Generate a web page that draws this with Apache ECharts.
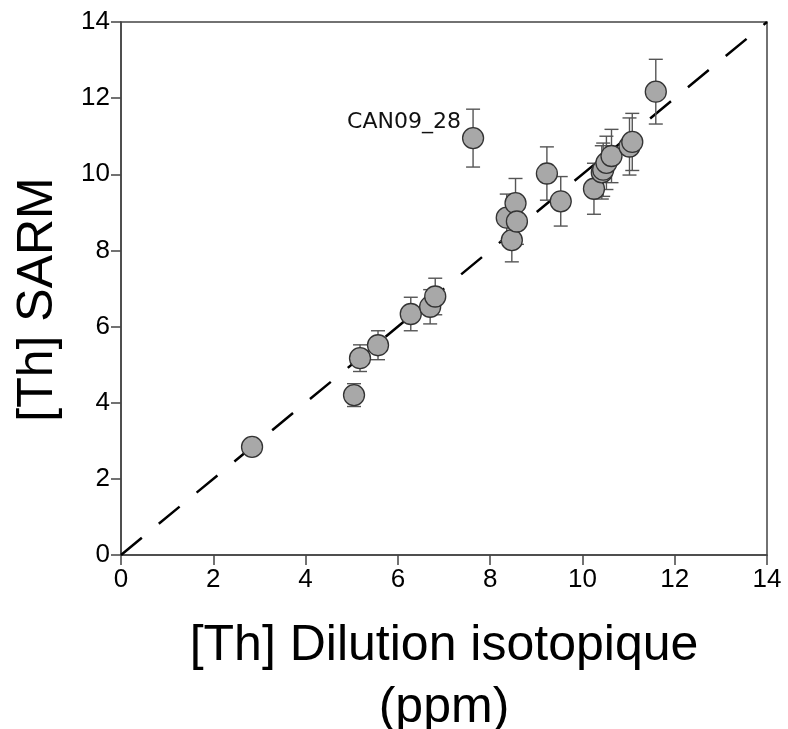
<!DOCTYPE html>
<html>
<head>
<meta charset="utf-8">
<script src="https://cdn.jsdelivr.net/npm/echarts@6/dist/echarts.min.js"></script>
<style>html,body{margin:0;padding:0;background:#fff}#c{width:788px;height:729px}</style>
</head>
<body>
<div id="c"></div>
<script>
var xTicks = [0, 2, 4, 6, 8, 10, 12, 14];
var yTicks = [0, 2, 4, 6, 8, 10, 12, 14];
var thDilution = [2.84, 5.05, 5.18, 5.57, 6.28, 6.70, 6.81, 7.63, 8.36, 8.47, 8.55, 8.58, 9.23, 9.53, 10.25, 10.42, 10.45, 10.52, 10.63, 11.02, 11.08, 11.59];
var thSarm = [2.84, 4.20, 5.17, 5.51, 6.33, 6.52, 6.79, 10.95, 8.86, 8.27, 9.24, 8.76, 10.02, 9.29, 9.62, 10.05, 10.12, 10.30, 10.48, 10.73, 10.85, 12.17];
var sarmErr = [0.15, 0.30, 0.35, 0.38, 0.44, 0.45, 0.48, 0.76, 0.62, 0.57, 0.65, 0.60, 0.70, 0.65, 0.67, 0.70, 0.70, 0.70, 0.70, 0.75, 0.75, 0.85];
var sampleLabels = ["", "", "", "", "", "", "", "CAN09_28", "", "", "", "", "", "", "", "", "", "", "", "", "", ""];
var lineX = [0, 14];
var lineY = [0, 14];

var chart = echarts.init(document.getElementById('c'), null, {renderer: 'canvas'});

var errData = thDilution.map(function (x, i) { return [x, thSarm[i] - sarmErr[i], thSarm[i] + sarmErr[i]]; });
var ptData = thDilution.map(function (x, i) {
  var d = {value: [x, thSarm[i]]};
  if (sampleLabels[i]) {
    d.label = {show: true, formatter: sampleLabels[i], position: 'left', distance: 1, offset: [0, -16],
      fontFamily: 'DejaVu Sans', fontSize: 22, color: '#111'};
  }
  return d;
});

var option = {
  animation: false,
  backgroundColor: '#fff',
  grid: {left: 121, right: 21, top: 22, bottom: 174, containLabel: false, outerBoundsMode: 'none',
    show: true, borderColor: '#444', borderWidth: 1.5, backgroundColor: 'transparent'},
  xAxis: {
    type: 'value', min: xTicks[0], max: xTicks[xTicks.length - 1], interval: 2,
    name: '[Th] Dilution isotopique\n(ppm)', nameLocation: 'middle', nameGap: 60,
    nameTextStyle: {fontFamily: 'Liberation Sans', fontSize: 50, color: '#000', lineHeight: 62},
    axisLine: {show: true, lineStyle: {color: '#444', width: 1.5}},
    axisTick: {show: true, inside: false, length: 10, lineStyle: {color: '#444', width: 1.5}},
    axisLabel: {fontFamily: 'Liberation Sans', fontSize: 26, color: '#000', margin: 12},
    splitLine: {show: false}
  },
  yAxis: {
    type: 'value', min: yTicks[0], max: yTicks[yTicks.length - 1], interval: 2,
    name: '[Th] SARM', nameLocation: 'middle', nameGap: 58,
    nameTextStyle: {fontFamily: 'Liberation Sans', fontSize: 50, color: '#000', padding: [0, 22, 0, 0]},
    axisLine: {show: true, lineStyle: {color: '#444', width: 1.5}},
    axisTick: {show: true, inside: false, length: 10, lineStyle: {color: '#444', width: 1.5}},
    axisLabel: {fontFamily: 'Liberation Sans', fontSize: 26, color: '#000', margin: 11},
    splitLine: {show: false}
  },
  series: [
    {
      type: 'line', data: lineX.map(function (x, i) { return [x, lineY[i]]; }),
      symbol: 'none', silent: true, z: 1,
      lineStyle: {color: '#000', width: 2.5, type: [27, 22]}
    },
    {
      type: 'custom', z: 2, data: errData,
      renderItem: function (params, api) {
        var top = api.coord([api.value(0), api.value(2)]);
        var bot = api.coord([api.value(0), api.value(1)]);
        var hw = 7;
        var st = {stroke: '#555', lineWidth: 1.4};
        return {type: 'group', children: [
          {type: 'line', shape: {x1: top[0], y1: top[1], x2: bot[0], y2: bot[1]}, style: st},
          {type: 'line', shape: {x1: top[0] - hw, y1: top[1], x2: top[0] + hw, y2: top[1]}, style: st},
          {type: 'line', shape: {x1: bot[0] - hw, y1: bot[1], x2: bot[0] + hw, y2: bot[1]}, style: st}
        ]};
      }
    },
    {
      type: 'scatter', z: 3, data: ptData, symbol: 'circle', symbolSize: 21,
      itemStyle: {color: '#a8a8a8', borderColor: '#333', borderWidth: 1.3, opacity: 1}
    }
  ]
};
chart.setOption(option);
</script>
</body>
</html>
